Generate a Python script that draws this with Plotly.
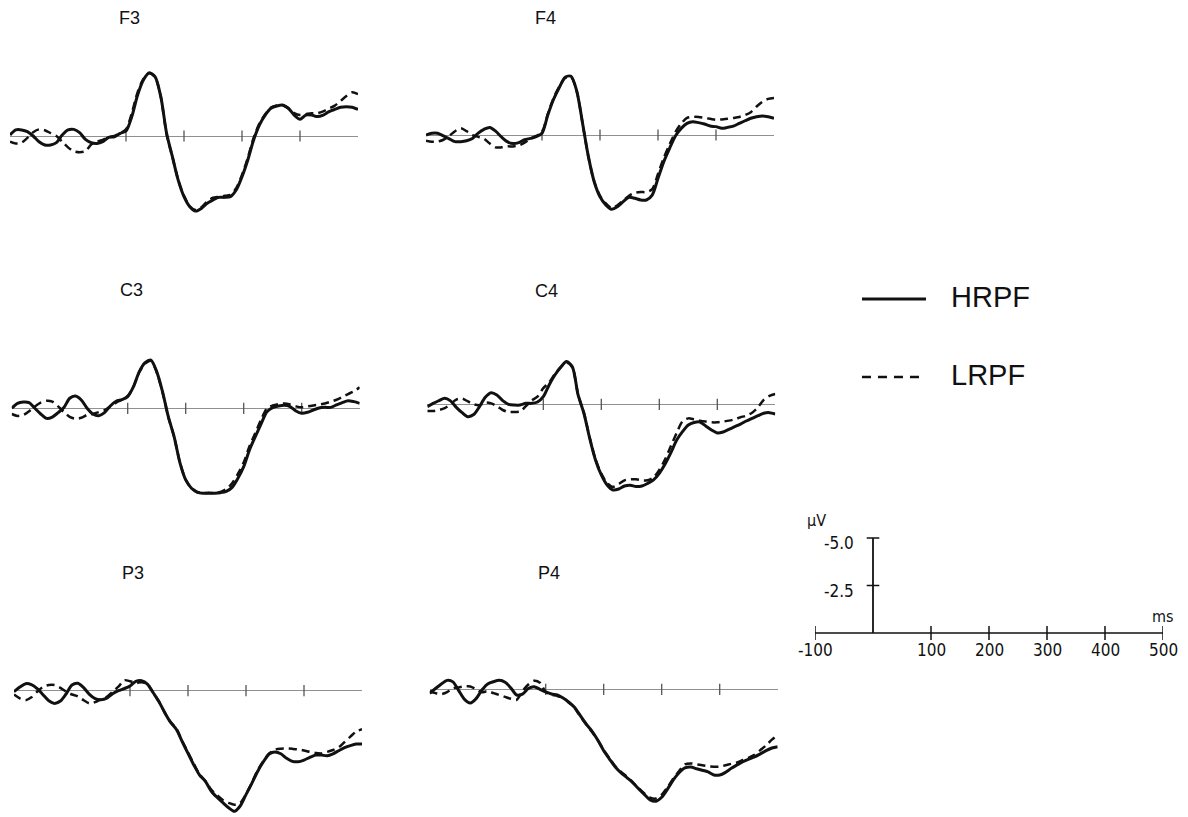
import plotly.graph_objects as go

# ---------------- data ----------------
time_ms = list(range(-100, 501, 10))
channels = ["F3", "F4", "C3", "C4", "P3", "P4"]
conditions = ["HRPF", "LRPF"]
tick_ms = [100, 200, 300, 400]
scale_ms_ticks = [-100, 0, 100, 200, 300, 400, 500]
scale_uv_ticks = [0.0, -2.5, -5.0]

F3_HRPF = [-0.05, -0.32, -0.32, -0.23, 0.0, 0.3, 0.47, 0.47, 0.35, -0.05,
           -0.32, -0.35, -0.18, 0.18, 0.35, 0.39, 0.3, 0.07, 0.04, -0.14,
           -0.26, -1.02, -2.16, -2.95, -3.33, -3.12, -2.07, -0.14, 1.09, 2.32,
           3.19, 3.72, 3.95, 3.81, 3.54, 3.37, 3.23, 3.23, 3.19, 2.84,
           2.14, 1.26, 0.21, -0.58, -1.1, -1.46, -1.58, -1.63, -1.46, -1.1,
           -0.88, -1.1, -1.1, -1.02, -1.1, -1.28, -1.4, -1.51, -1.54, -1.51,
           -1.4]
F3_LRPF = [0.3, 0.4, 0.35, 0.1, -0.2, -0.35, -0.3, -0.15, 0.0, 0.3,
           0.6, 0.8, 0.85, 0.8, 0.45, 0.3, 0.2, 0.05, 0.0, -0.15,
           -0.35, -1.2, -2.3, -3.0, -3.3, -3.1, -2.05, -0.1, 1.1, 2.3,
           3.15, 3.7, 3.9, 3.75, 3.45, 3.25, 3.2, 3.15, 3.1, 2.75,
           2.05, 1.15, 0.1, -0.65, -1.15, -1.5, -1.6, -1.62, -1.45, -1.2,
           -1.1, -1.15, -1.2, -1.2, -1.3, -1.45, -1.6, -1.85, -2.1, -2.3,
           -2.2]
F4_HRPF = [0.0, -0.09, -0.09, 0.05, 0.2, 0.35, 0.35, 0.3, 0.18, -0.1,
           -0.3, -0.4, -0.2, 0.1, 0.35, 0.45, 0.4, 0.25, 0.18, 0.09,
           -0.09, -1.05, -1.88, -2.51, -3.04, -3.09, -2.3, -0.61, 1.14, 2.46,
           3.25, 3.68, 3.91, 3.77, 3.51, 3.28, 3.33, 3.42, 3.42, 3.16,
           2.28, 1.4, 0.7, 0.05, -0.35, -0.61, -0.7, -0.65, -0.58, -0.47,
           -0.44, -0.35, -0.4, -0.47, -0.61, -0.75, -0.88, -0.96, -1.0, -0.96,
           -0.88]
F4_LRPF = [0.3, 0.35, 0.35, 0.25, 0.05, -0.2, -0.35, -0.2, 0.0, 0.1,
           0.2, 0.45, 0.65, 0.65, 0.6, 0.6, 0.55, 0.4, 0.2, 0.05,
           -0.15, -1.1, -1.95, -2.55, -3.0, -3.05, -2.3, -0.6, 1.15, 2.45,
           3.2, 3.6, 3.85, 3.7, 3.45, 3.2, 3.05, 3.0, 3.0, 2.85,
           2.05, 1.2, 0.5, -0.15, -0.6, -0.9, -0.95, -0.95, -0.9, -0.85,
           -0.8, -0.82, -0.85, -0.9, -0.95, -1.05, -1.2, -1.5, -1.75, -1.9,
           -1.95]
C3_HRPF = [0.0, -0.26, -0.33, -0.3, 0.0, 0.3, 0.53, 0.46, 0.23, -0.04,
           -0.53, -0.65, -0.44, 0.0, 0.3, 0.39, 0.23, -0.12, -0.37, -0.46,
           -0.61, -1.14, -1.93, -2.4, -2.54, -1.93, -0.88, 0.44, 1.49, 2.86,
           3.77, 4.21, 4.42, 4.47, 4.47, 4.47, 4.44, 4.37, 4.16, 3.68,
           3.07, 2.19, 1.49, 0.82, 0.18, -0.04, -0.12, -0.16, -0.09, 0.14,
           0.26, 0.21, 0.09, -0.02, -0.05, -0.05, -0.18, -0.3, -0.4, -0.35,
           -0.26]
C3_LRPF = [0.3, 0.4, 0.35, 0.15, -0.1, -0.3, -0.4, -0.35, -0.1, 0.2,
           0.45, 0.55, 0.5, 0.35, 0.3, 0.2, 0.1, -0.1, -0.3, -0.45,
           -0.65, -1.15, -1.9, -2.35, -2.5, -1.9, -0.85, 0.45, 1.5, 2.85,
           3.75, 4.2, 4.4, 4.45, 4.45, 4.45, 4.4, 4.25, 3.95, 3.45,
           2.85, 2.0, 1.3, 0.6, 0.0, -0.15, -0.22, -0.25, -0.2, -0.1,
           -0.05, -0.1, -0.15, -0.2, -0.25, -0.35, -0.45, -0.6, -0.75, -0.9,
           -1.1]
C4_HRPF = [0.12, -0.05, -0.19, -0.32, -0.18, 0.16, 0.44, 0.65, 0.54, 0.12,
           -0.37, -0.61, -0.49, -0.19, 0.0, 0.04, 0.04, -0.05, -0.05, -0.12,
           -0.4, -1.02, -1.54, -1.95, -2.25, -1.98, -0.49, 0.47, 1.79, 2.93,
           3.72, 4.25, 4.51, 4.46, 4.3, 4.26, 4.33, 4.3, 4.16, 3.98,
           3.63, 3.14, 2.54, 1.88, 1.44, 1.09, 0.96, 0.93, 1.14, 1.35,
           1.51, 1.46, 1.32, 1.18, 1.04, 0.88, 0.74, 0.6, 0.47, 0.44,
           0.51]
C4_LRPF = [0.35, 0.35, 0.3, 0.2, 0.0, -0.25, -0.3, -0.15, 0.0, 0.05,
           -0.1, -0.05, 0.1, 0.3, 0.4, 0.4, 0.38, 0.1, -0.2, -0.4,
           -0.85, -1.15, -1.6, -1.95, -2.2, -1.95, -0.5, 0.45, 1.75, 2.9,
           3.65, 4.15, 4.35, 4.2, 4.0, 3.95, 3.95, 4.0, 4.0, 3.85,
           3.45, 2.9, 2.2, 1.5, 0.9, 0.74, 0.79, 0.86, 0.91, 0.95,
           0.95, 0.91, 0.86, 0.79, 0.68, 0.6, 0.44, 0.16, -0.23, -0.44,
           -0.54]
P3_HRPF = [0.05, -0.19, -0.37, -0.32, -0.11, 0.21, 0.53, 0.67, 0.54, 0.16,
           -0.3, -0.39, -0.16, 0.19, 0.42, 0.47, 0.39, 0.16, 0.0, -0.11,
           -0.25, -0.49, -0.53, -0.35, 0.11, 0.58, 1.16, 1.67, 2.04, 2.68,
           3.3, 3.91, 4.44, 4.77, 5.28, 5.61, 5.89, 6.16, 6.35, 6.07,
           5.47, 4.88, 4.25, 3.74, 3.33, 3.23, 3.32, 3.56, 3.72, 3.74,
           3.65, 3.51, 3.39, 3.39, 3.42, 3.32, 3.16, 3.0, 2.89, 2.81,
           2.81]
P3_LRPF = [0.2, 0.4, 0.5, 0.35, 0.05, -0.2, -0.3, -0.3, -0.15, 0.05,
           0.2, 0.3, 0.5, 0.67, 0.6, 0.45, 0.32, 0.05, -0.21, -0.55,
           -0.5, -0.4, -0.45, -0.35, 0.1, 0.58, 1.16, 1.65, 2.0, 2.65,
           3.25, 3.85, 4.4, 4.75, 5.2, 5.5, 5.75, 5.9, 6.0, 5.9,
           5.45, 4.85, 4.2, 3.7, 3.3, 3.1, 3.05, 3.04, 3.06, 3.09,
           3.15, 3.22, 3.28, 3.3, 3.22, 3.12, 2.98, 2.7, 2.42, 2.15,
           2.02]
P4_HRPF = [0.21, -0.04, -0.28, -0.47, -0.39, 0.07, 0.53, 0.72, 0.49, 0.04,
           -0.28, -0.4, -0.47, -0.37, -0.07, 0.3, 0.25, -0.04, -0.14, 0.0,
           0.14, 0.25, 0.3, 0.46, 0.68, 0.96, 1.4, 1.84, 2.21, 2.68,
           3.23, 3.67, 4.09, 4.4, 4.65, 4.91, 5.23, 5.53, 5.82, 5.89,
           5.68, 5.25, 4.77, 4.39, 4.14, 4.09, 4.18, 4.26, 4.35, 4.51,
           4.51, 4.37, 4.16, 3.98, 3.81, 3.68, 3.56, 3.4, 3.23, 3.09,
           3.02]
P4_LRPF = [0.1, 0.2, 0.25, 0.15, -0.05, -0.1, -0.15, -0.15, 0.0, 0.15,
           0.1, 0.2, 0.3, 0.4, 0.5, 0.55, 0.1, -0.25, -0.45, -0.35,
           0.15, 0.28, 0.35, 0.45, 0.7, 1.0, 1.45, 1.85, 2.25, 2.7,
           3.2, 3.62, 4.05, 4.35, 4.6, 4.88, 5.2, 5.48, 5.7, 5.75,
           5.55, 5.15, 4.7, 4.3, 3.95, 3.9, 3.95, 4.0, 4.05, 4.07,
           4.07, 4.0, 3.92, 3.85, 3.72, 3.6, 3.45, 3.2, 2.95, 2.65,
           2.4]

series = {
    "F3": (F3_HRPF, F3_LRPF), "F4": (F4_HRPF, F4_LRPF),
    "C3": (C3_HRPF, C3_LRPF), "C4": (C4_HRPF, C4_LRPF),
    "P3": (P3_HRPF, P3_LRPF), "P4": (P4_HRPF, P4_LRPF),
}

# ---------------- layout geometry (pixels) ----------------
W, H = 1188, 817
PX_PER_MS = 0.58
PX_PER_UV = 19.0
# (left px of -100 ms, baseline px, title y px)
geom = {
    "F3": (10.0, 136.0, 18.0), "F4": (426.0, 135.0, 18.0),
    "C3": (11.7, 408.3, 290.0), "C4": (427.3, 404.3, 291.0),
    "P3": (14.0, 690.7, 573.0), "P4": (429.7, 689.3, 573.0),
}
ABOVE, BELOW = 90.0, 125.0

INK = "#111111"
FONT = "Arial, Liberation Sans, Helvetica, sans-serif"
NARROW = "Liberation Sans Narrow, Arial Narrow, DejaVu Sans Condensed, Arial, sans-serif"

fig = go.Figure()
layout = dict(
    width=W, height=H, margin=dict(l=0, r=0, t=0, b=0),
    paper_bgcolor="white", plot_bgcolor="white", showlegend=False,
    annotations=[], shapes=[],
)

for i, ch in enumerate(channels, start=1):
    xs, base, ty = geom[ch]
    xname = "x" if i == 1 else f"x{i}"
    yname = "y" if i == 1 else f"y{i}"
    xkey = "xaxis" if i == 1 else f"xaxis{i}"
    ykey = "yaxis" if i == 1 else f"yaxis{i}"
    span_px = (time_ms[-1] - time_ms[0]) * PX_PER_MS
    layout[xkey] = dict(
        domain=[xs / W, (xs + span_px) / W], range=[time_ms[0], time_ms[-1]],
        anchor=yname, visible=False, showgrid=False, zeroline=False,
    )
    layout[ykey] = dict(
        domain=[1 - (base + BELOW) / H, 1 - (base - ABOVE) / H],
        range=[BELOW / PX_PER_UV, -ABOVE / PX_PER_UV],
        anchor=xname, showgrid=False, showticklabels=False, ticks="",
        showline=False, zeroline=True, zerolinecolor="#909090", zerolinewidth=1,
    )
    # tick marks on the baseline
    fig.add_trace(go.Scatter(
        x=tick_ms, y=[0] * len(tick_ms), mode="markers", xaxis=xname, yaxis=yname,
        marker=dict(symbol="line-ns", size=8, line=dict(width=1.3, color="#555555")),
        hoverinfo="skip",
    ))
    hr, lr = series[ch]
    fig.add_trace(go.Scatter(
        x=time_ms, y=lr, mode="lines", name="LRPF", xaxis=xname, yaxis=yname,
        line=dict(color=INK, width=2.5, dash="8px,5px", shape="spline", smoothing=0.8),
    ))
    fig.add_trace(go.Scatter(
        x=time_ms, y=hr, mode="lines", name="HRPF", xaxis=xname, yaxis=yname,
        line=dict(color=INK, width=3.0, shape="spline", smoothing=0.8),
    ))
    layout["annotations"].append(dict(
        text=ch, xref=xname, yref="paper", x=106, y=1 - ty / H,
        showarrow=False, xanchor="center", yanchor="middle",
        font=dict(family=FONT, size=18, color=INK),
    ))

# ---------------- scale panel ----------------
sx0, sbase = 815.0, 633.0
layout["xaxis7"] = dict(
    domain=[sx0 / W, (sx0 + 600 * PX_PER_MS) / W], range=[-100, 500],
    anchor="y7", visible=False, showgrid=False, zeroline=False,
)
layout["yaxis7"] = dict(
    domain=[1 - (sbase + 27) / H, 1 - (sbase - 133) / H],
    range=[27 / PX_PER_UV, -133 / PX_PER_UV],
    anchor="x7", visible=False, showgrid=False, zeroline=False,
)
fig.add_trace(go.Scatter(
    x=[scale_ms_ticks[0], scale_ms_ticks[-1]], y=[0, 0], mode="lines",
    xaxis="x7", yaxis="y7", line=dict(color=INK, width=1.5), hoverinfo="skip",
))
fig.add_trace(go.Scatter(
    x=[0] * len(scale_uv_ticks), y=scale_uv_ticks, mode="lines",
    xaxis="x7", yaxis="y7", line=dict(color=INK, width=1.8), hoverinfo="skip",
))
xt = [v for v in scale_ms_ticks if v != 0]
fig.add_trace(go.Scatter(
    x=xt, y=[0] * len(xt), mode="markers", xaxis="x7", yaxis="y7",
    marker=dict(symbol="line-ns", size=10, line=dict(width=1.5, color=INK)),
    hoverinfo="skip",
))
yt = [v for v in scale_uv_ticks if v != 0]
fig.add_trace(go.Scatter(
    x=[0] * len(yt), y=yt, mode="markers", xaxis="x7", yaxis="y7",
    marker=dict(symbol="line-ew", size=9, line=dict(width=1.5, color=INK)),
    hoverinfo="skip",
))
for v in xt:
    layout["annotations"].append(dict(
        text=str(v), xref="x7", yref="y7", x=v, y=0.88, showarrow=False,
        xanchor="center", yanchor="middle", font=dict(family=NARROW, size=17, color=INK),
    ))
for v in yt:
    layout["annotations"].append(dict(
        text=f"{v:.1f}", xref="x7", yref="y7", x=-30, y=v, yshift=-5, showarrow=False,
        xanchor="right", yanchor="middle", font=dict(family=NARROW, size=17, color=INK),
    ))
layout["annotations"].append(dict(
    text="µV", xref="x7", yref="y7", x=-97, y=-5.9, showarrow=False,
    xanchor="center", yanchor="middle", font=dict(family=NARROW, size=16, color=INK),
))
layout["annotations"].append(dict(
    text="ms", xref="x7", yref="y7", x=500, y=-0.85, showarrow=False,
    xanchor="center", yanchor="middle", font=dict(family=NARROW, size=16, color=INK),
))

# ---------------- legend (key lines + labels) ----------------
legend_rows = [(conditions[0], 299.0, dict(width=3, dash="solid")),
               (conditions[1], 377.0, dict(width=2.4, dash="9px,7px"))]
for label, py, style in legend_rows:
    layout["shapes"].append(dict(
        type="line", xref="paper", yref="paper",
        x0=862 / W, x1=926 / W, y0=1 - py / H, y1=1 - py / H,
        line=dict(color=INK, **style),
    ))
    layout["annotations"].append(dict(
        text=label, xref="paper", yref="paper", x=949 / W, y=1 - (py - 2) / H,
        showarrow=False, xanchor="left", yanchor="middle",
        font=dict(family=FONT, size=29, color=INK),
    ))

fig.update_layout(**layout)
fig.write_html(
    "out.html",
    config={"displayModeBar": False},
    post_script="document.body.style.margin='0px';document.body.style.padding='0px';",
)
